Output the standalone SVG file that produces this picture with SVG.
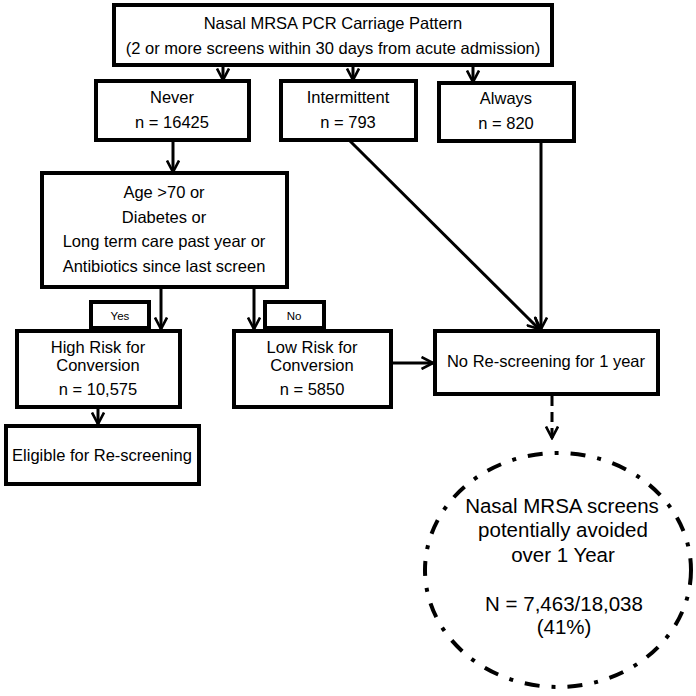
<svg xmlns="http://www.w3.org/2000/svg" width="696" height="696" viewBox="0 0 696 696">
<style>
.box{fill:#fff;stroke:#000;stroke-width:4}
.t{font-family:"Liberation Sans",Arial,sans-serif;font-size:16.5px;fill:#000;text-anchor:middle}
.s{font-family:"Liberation Sans",Arial,sans-serif;font-size:11.5px;fill:#000;text-anchor:middle}
.e{font-family:"Liberation Sans",Arial,sans-serif;font-size:20.5px;fill:#000;text-anchor:middle}
.c{fill:none;stroke:#000;stroke-width:3}
</style>
<defs>
<marker id="arr" viewBox="0 0 14 14" refX="12.5" refY="7" markerWidth="14" markerHeight="14" markerUnits="userSpaceOnUse" orient="auto">
<path d="M1,1 L12.5,7 L1,13" fill="none" stroke="#000" stroke-width="2.6"/>
</marker>
</defs>
<rect width="696" height="696" fill="#fff"/>
<g id="connectors">
<line class="c" x1="223" y1="66" x2="223" y2="80" marker-end="url(#arr)"/>
<line class="c" x1="353" y1="66" x2="353" y2="80" marker-end="url(#arr)"/>
<line class="c" x1="473" y1="66" x2="473" y2="82" marker-end="url(#arr)"/>
<line class="c" x1="173" y1="141" x2="173" y2="172" marker-end="url(#arr)"/>
<line class="c" x1="161" y1="288" x2="161" y2="329" marker-end="url(#arr)"/>
<line class="c" x1="254" y1="288" x2="254" y2="329" marker-end="url(#arr)"/>
<line class="c" x1="98" y1="408" x2="98" y2="424" marker-end="url(#arr)"/>
<line class="c" x1="392" y1="363" x2="433" y2="363" marker-end="url(#arr)"/>
<line class="c" x1="350" y1="141" x2="539" y2="329" marker-end="url(#arr)"/>
<line class="c" x1="541" y1="141" x2="541" y2="329" marker-end="url(#arr)"/>
<line class="c" x1="552" y1="396" x2="552" y2="438" stroke-dasharray="10 6" marker-end="url(#arr)"/>
</g>
<g id="top">
<rect class="box" x="114" y="5" width="438" height="60"/>
<text class="t" x="333" y="29">Nasal MRSA PCR Carriage Pattern</text>
<text class="t" x="333" y="54">(2 or more screens within 30 days from acute admission)</text>
</g>
<g id="never">
<rect class="box" x="96" y="81" width="153" height="59"/>
<text class="t" x="172" y="103">Never</text>
<text class="t" x="172" y="128">n = 16425</text>
</g>
<g id="intermittent">
<rect class="box" x="281" y="81" width="135" height="59"/>
<text class="t" x="348" y="103">Intermittent</text>
<text class="t" x="348" y="128">n = 793</text>
</g>
<g id="always">
<rect class="box" x="439" y="83" width="135" height="58"/>
<text class="t" x="506" y="104">Always</text>
<text class="t" x="506" y="129">n = 820</text>
</g>
<g id="criteria">
<rect class="box" x="42" y="173" width="245" height="114"/>
<text class="t" x="164" y="198">Age &gt;70 or</text>
<text class="t" x="164" y="223">Diabetes or</text>
<text class="t" x="164" y="247">Long term care past year or</text>
<text class="t" x="164" y="272">Antibiotics since last screen</text>
</g>
<g id="yes">
<rect class="box" x="91" y="302" width="58" height="26"/>
<text class="s" x="120" y="320">Yes</text>
</g>
<g id="no">
<rect class="box" x="265" y="302" width="59" height="26"/>
<text class="s" x="294" y="320">No</text>
</g>
<g id="high">
<rect class="box" x="17" y="331" width="163" height="76"/>
<text class="t" x="98" y="353">High Risk for</text>
<text class="t" x="98" y="371">Conversion</text>
<text class="t" x="98" y="395">n = 10,575</text>
</g>
<g id="low">
<rect class="box" x="234" y="331" width="157" height="76"/>
<text class="t" x="312" y="353">Low Risk for</text>
<text class="t" x="312" y="371">Conversion</text>
<text class="t" x="312" y="395">n = 5850</text>
</g>
<g id="norescreen">
<rect class="box" x="435" y="331" width="223" height="63"/>
<text class="t" x="546" y="367">No Re-screening for 1 year</text>
</g>
<g id="eligible">
<rect class="box" x="6" y="426" width="193" height="58"/>
<text class="t" x="102" y="461">Eligible for Re-screening</text>
</g>
<g id="avoided">
<ellipse cx="558" cy="570" rx="133" ry="117" fill="none" stroke="#000" stroke-width="4" stroke-dasharray="15 12 4 12"/>
<text class="e" x="562" y="513">Nasal MRSA screens</text>
<text class="e" x="563" y="537">potentially avoided</text>
<text class="e" x="563" y="562">over 1 Year</text>
<text class="e" x="564" y="611">N = 7,463/18,038</text>
<text class="e" x="564" y="634">(41%)</text>
</g>
</svg>
